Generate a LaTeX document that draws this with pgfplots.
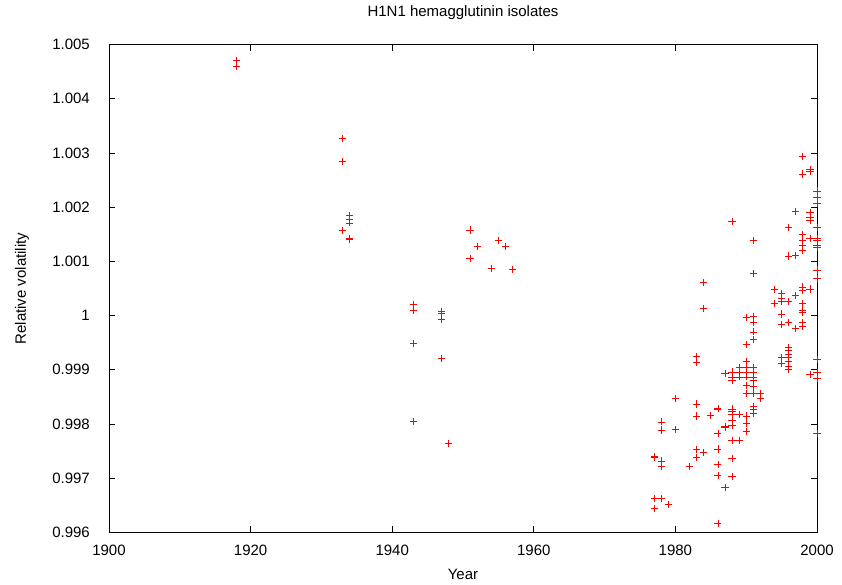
\documentclass[border=0pt]{standalone}
\usepackage{pgfplots}
\pgfplotsset{compat=1.18}
\usepackage{pgfplotstable}
\usepackage{fontspec}
\setmainfont{Liberation Sans}
\pgfplotstableread{
year val
1918 1.00470
1918 1.00459
1933 1.00327
1933 1.00284
1933 1.00157
1934 1.00185
1934 1.00178
1934 1.00171
1934 1.00142
1934 1.00140
1943 1.00021
1943 1.00009
1943 0.99948
1943 0.99805
1947 1.00008
1947 1.00004
1947 0.99993
1947 0.99921
1948 0.99764
1951 1.00158
1951 1.00106
1952 1.00127
1954 1.00087
1955 1.00139
1956 1.00128
1957 1.00085
1977 0.99740
1977 0.99738
1977 0.99663
1977 0.99645
1978 0.99804
1978 0.99789
1978 0.99732
1978 0.99722
1978 0.99663
1979 0.99652
1980 0.99847
1980 0.99790
1982 0.99722
1983 0.99925
1983 0.99914
1983 0.99837
1983 0.99815
1983 0.99753
1983 0.99738
1984 1.00061
1984 1.00013
1984 0.99748
1985 0.99816
1986 0.99829
1986 0.99828
1986 0.99783
1986 0.99754
1986 0.99725
1986 0.99705
1986 0.99617
1987 0.99893
1987 0.99796
1987 0.99794
1987 0.99683
1988 1.00173
1988 0.99896
1988 0.99887
1988 0.99881
1988 0.99828
1988 0.99824
1988 0.99817
1988 0.99807
1988 0.99797
1988 0.99770
1988 0.99737
1988 0.99703
1989 0.99904
1989 0.99896
1989 0.99887
1989 0.99817
1989 0.99770
1990 0.99997
1990 0.99947
1990 0.99915
1990 0.99904
1990 0.99896
1990 0.99887
1990 0.99871
1990 0.99856
1990 0.99815
1990 0.99802
1990 0.99787
1991 1.00138
1991 1.00077
1991 0.99998
1991 0.99987
1991 0.99970
1991 0.99956
1991 0.99904
1991 0.99896
1991 0.99887
1991 0.99880
1991 0.99870
1991 0.99856
1991 0.99832
1991 0.99827
1991 0.99820
1992 0.99856
1992 0.99848
1994 1.00048
1994 1.00022
1995 1.00041
1995 1.00032
1995 1.00026
1995 1.00003
1995 0.99983
1995 0.99923
1995 0.99911
1996 1.00163
1996 1.00110
1996 1.00026
1996 0.99988
1996 0.99941
1996 0.99935
1996 0.99929
1996 0.99923
1996 0.99915
1996 0.99907
1996 0.99901
1997 1.00192
1997 1.00111
1997 1.00037
1997 0.99976
1998 1.00294
1998 1.00261
1998 1.00150
1998 1.00139
1998 1.00130
1998 1.00121
1998 1.00053
1998 1.00047
1998 1.00022
1998 1.00010
1998 1.00006
1998 0.99988
1998 0.99980
1999 1.00270
1999 1.00266
1999 1.00190
1999 1.00182
1999 1.00175
1999 1.00142
1999 1.00049
1999 0.99892
2000 1.00230
2000 1.00218
2000 1.00207
2000 1.00163
2000 1.00142
2000 1.00138
2000 1.00130
2000 1.00125
2000 1.00084
2000 1.00069
2000 0.99919
2000 0.99895
2000 0.99885
2000 0.99783
}\datatable
\begin{document}
\fontsize{15}{18}\selectfont
\begin{tikzpicture}
\useasboundingbox (-109pt,-51.5pt) rectangle (733pt,532.5pt);
\begin{axis}[
  at={(0,0)}, anchor=south west,
  scale only axis, width=708pt, height=488pt,
  xmin=1900, xmax=2000, ymin=0.996, ymax=1.005,
  xtick={1900,1920,1940,1960,1980,2000},
  xticklabels={1900,1920,1940,1960,1980,2000},
  ytick={0.996,0.997,0.998,0.999,1,1.001,1.002,1.003,1.004,1.005},
  yticklabels={0.996,0.997,0.998,0.999,1,1.001,1.002,1.003,1.004,1.005},
  tick pos=both, tick align=inside, major tick length=6.5pt,
  tick style={black, line width=0.8pt},
  axis line style={black, line width=0.9pt},
  xticklabel style={anchor=base, yshift=-22.5pt, inner sep=0pt},
  yticklabel style={anchor=east, xshift=-19pt, inner sep=0pt},
  title={H1N1 hemagglutinin isolates},
  title style={at={(axis description cs:0.5,1.0441)}, anchor=base, inner sep=0pt},
  xlabel={Year},
  xlabel style={at={(axis description cs:0.5,-0.0973)}, anchor=base, inner sep=0pt},
  ylabel={Relative volatility},
  ylabel style={at={(axis description cs:-0.1229,0.5)}, anchor=center, inner sep=0pt},
  clip=false,
]
\addplot[only marks, mark=+, color=red, mark size=3.6pt, mark options={line width=0.75pt}] table[x=year, y=val] {\datatable};
\end{axis}
\end{tikzpicture}
\end{document}
